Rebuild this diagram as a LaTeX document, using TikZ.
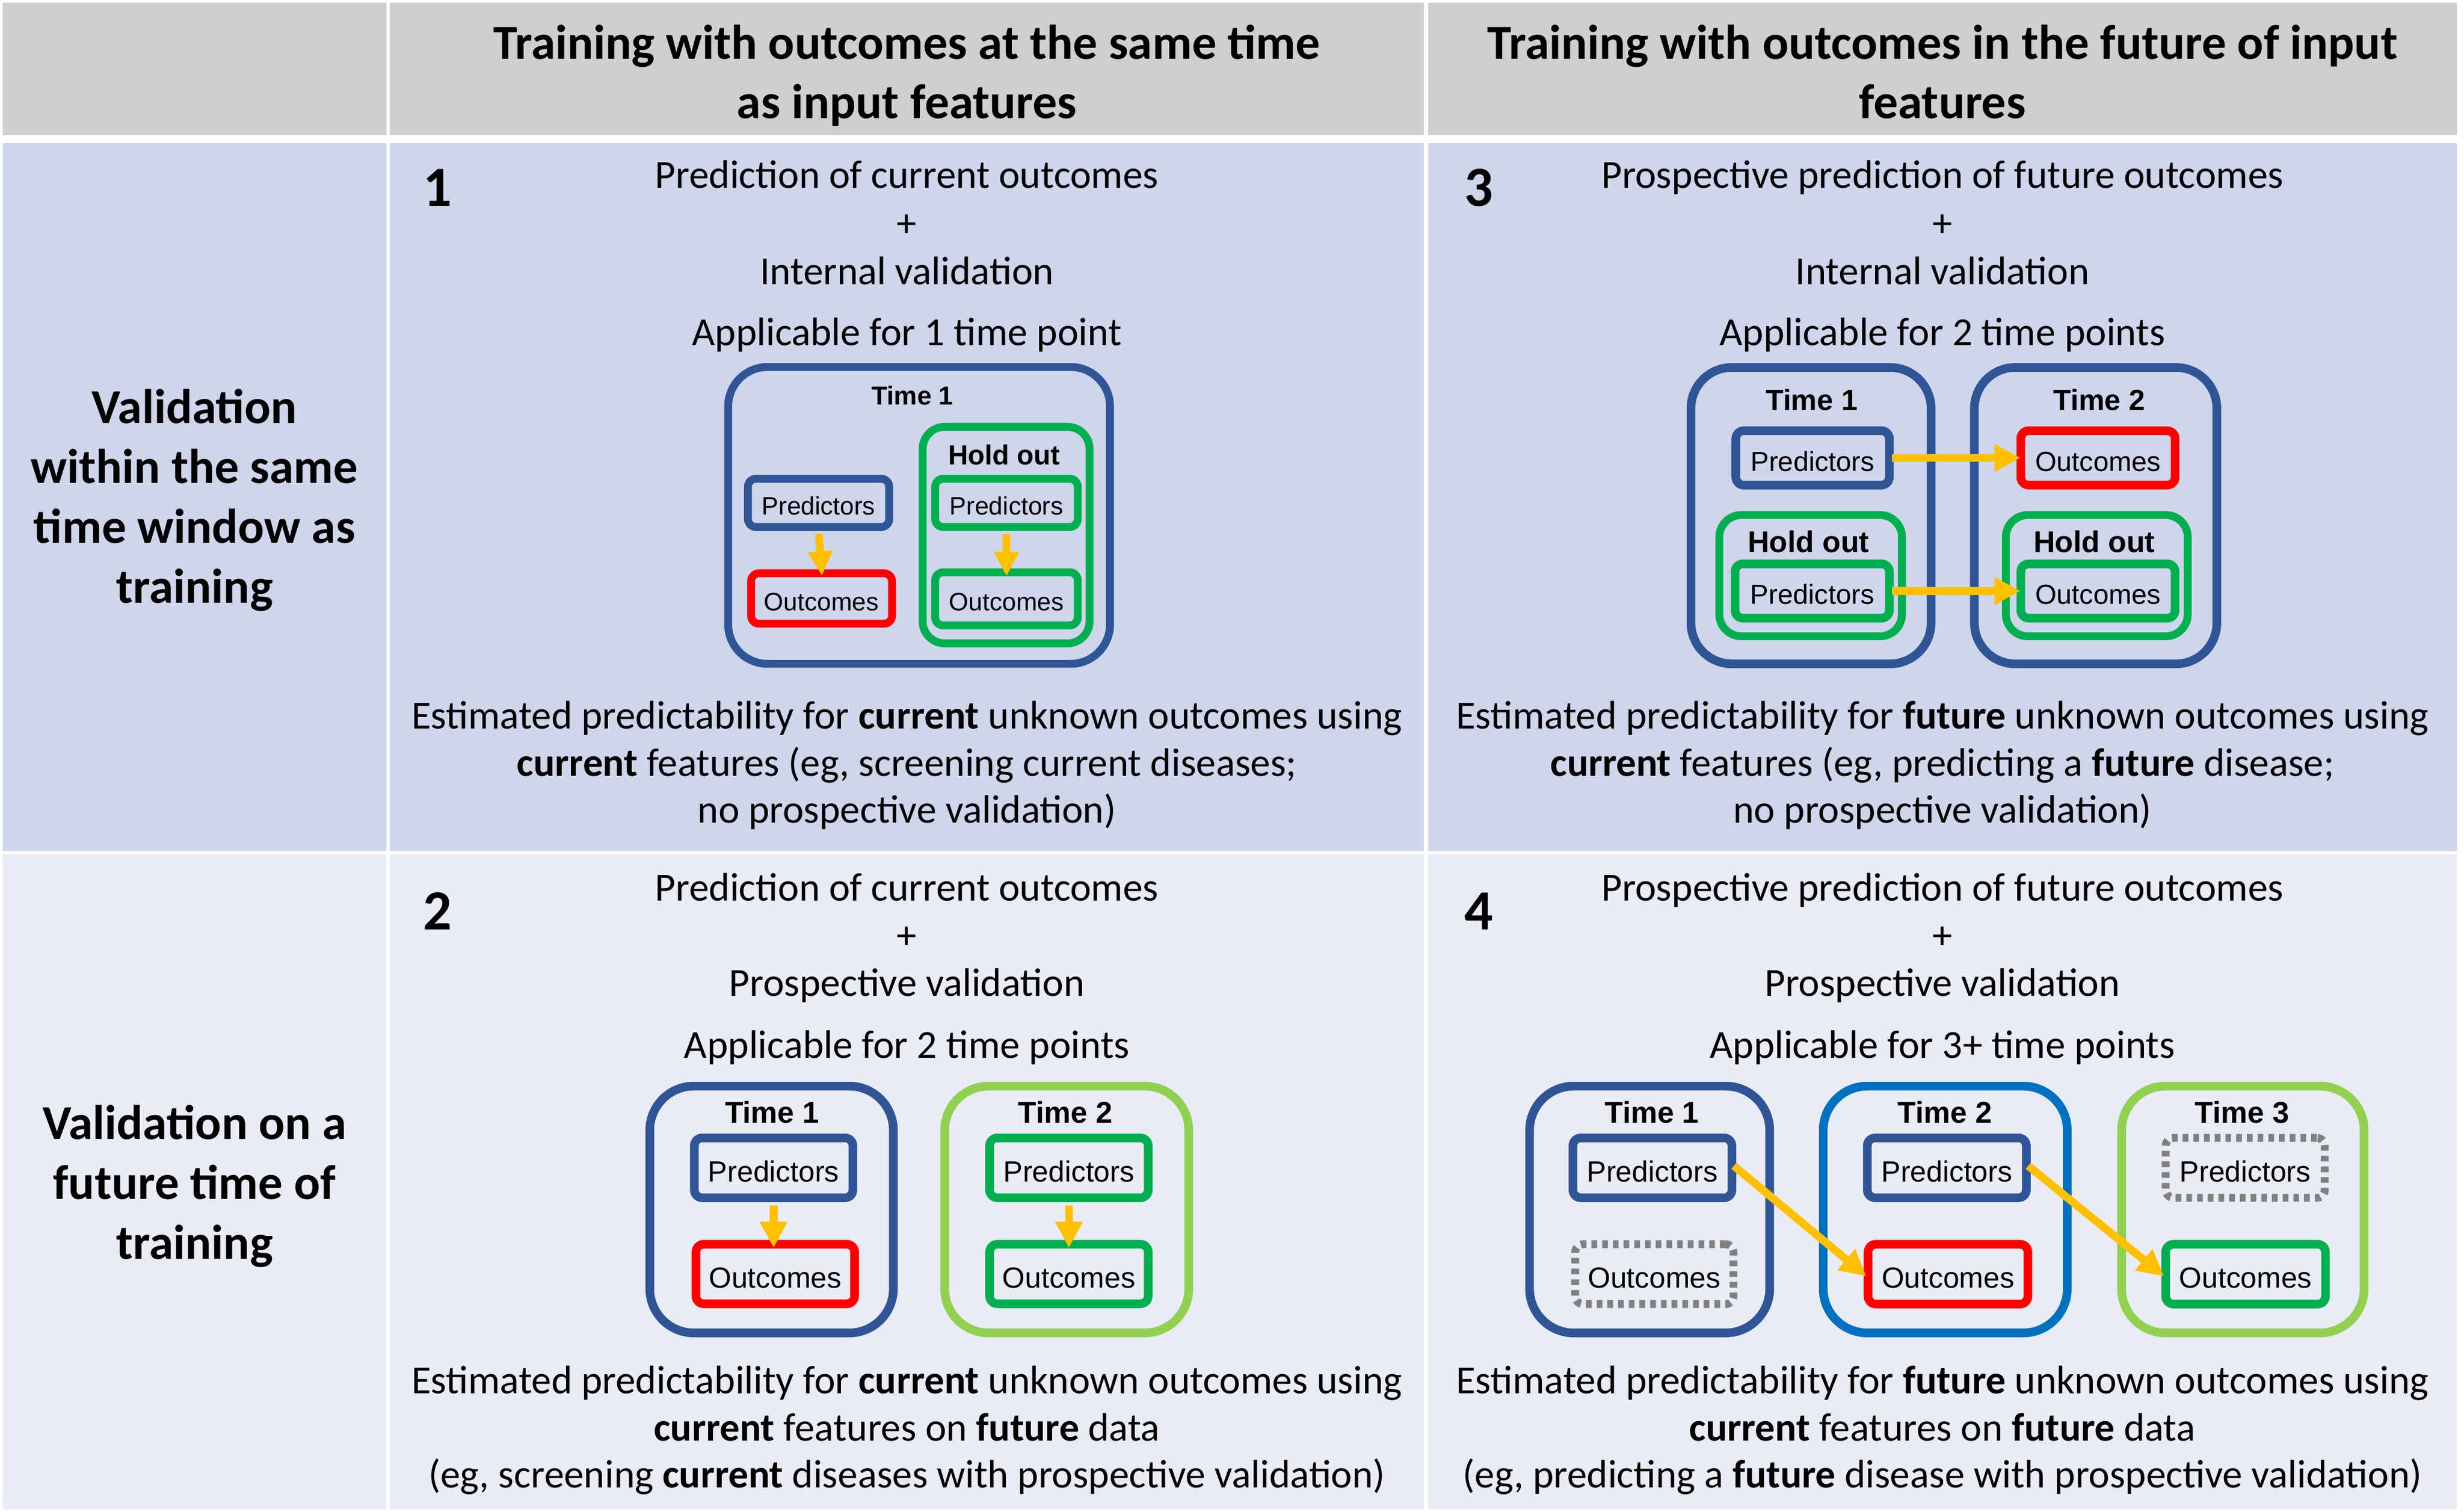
\documentclass[tikz,border=0pt]{standalone}
\usepackage{fontspec}
\setmainfont{Carlito}
\newfontfamily\arialf{Liberation Sans}
\usetikzlibrary{arrows.meta}
\definecolor{hdrgray}{HTML}{D0CECE}
\definecolor{rowa}{HTML}{CFD5EA}
\definecolor{rowb}{HTML}{E9EBF5}
\definecolor{dblue}{HTML}{2F5597}
\definecolor{mblue}{HTML}{0070C0}
\definecolor{dgreen}{HTML}{00B050}
\definecolor{lgreen}{HTML}{92D050}
\definecolor{ored}{HTML}{FF0000}
\definecolor{arrowy}{HTML}{FFC000}
\definecolor{dgray}{HTML}{808080}
\tikzset{
  body/.style={anchor=base, inner sep=0pt, font=\fontsize{25.3}{30.5}\selectfont},
  hdr/.style={anchor=base, inner sep=0pt, font=\fontsize{31}{38}\selectfont\bfseries},
  num/.style={anchor=base west, inner sep=0pt, font=\fontsize{36}{40}\selectfont\bfseries},
  outerbox/.style={draw, line width=5.5pt, rounded corners=27pt, inner sep=0pt},
  innerbox/.style={draw, line width=5.5pt, rounded corners=5pt, inner sep=0pt},
  holdbox/.style={draw=dgreen, line width=5pt, rounded corners=14pt, inner sep=0pt},
  dashbox/.style={draw=dgray, line width=5pt, dash pattern=on 3.6pt off 3.2pt, rounded corners=5pt, inner sep=0pt},
  lblA/.style={font=\arialf\fontsize{16}{18}\selectfont, text height=15.2pt, text depth=0pt},
  lblB/.style={font=\arialf\fontsize{17.5}{19}\selectfont, text height=16.6pt, text depth=0pt},
  lblC/.style={font=\arialf\fontsize{18.5}{20}\selectfont, text height=17.6pt, text depth=0pt},
  timeA/.style={inner sep=0pt, font=\arialf\bfseries\fontsize{16.5}{18}\selectfont},
  timeB/.style={inner sep=0pt, font=\arialf\bfseries\fontsize{18.5}{20}\selectfont},
  timeC/.style={inner sep=0pt, font=\arialf\bfseries\fontsize{19}{21}\selectfont},
  holdA/.style={inner sep=0pt, font=\arialf\bfseries\fontsize{17.5}{19}\selectfont},
  holdB/.style={inner sep=0pt, font=\arialf\bfseries\fontsize{19}{21}\selectfont},
  flow/.style={draw=arrowy, line width=5pt, -{Triangle[width=16.5pt,length=16.5pt]}}
}
\begin{document}
\begin{tikzpicture}[x=1pt,y=-1pt]
\useasboundingbox (0,0) rectangle (1565,959.7);
\fill[white] (0,0) rectangle (1565,959.7);
% table cells
\fill[hdrgray] (1.7,1.7) rectangle (245.3,85.7);
\fill[hdrgray] (247.6,1.7) rectangle (904.3,85.7);
\fill[hdrgray] (907,1.7) rectangle (1560.5,85.7);
\fill[rowa] (1.7,91) rectangle (245.3,540.5);
\fill[rowa] (247.6,91) rectangle (904.3,540.5);
\fill[rowa] (907,91) rectangle (1560.5,540.5);
\fill[rowb] (1.7,542.5) rectangle (245.3,958.3);
\fill[rowb] (247.6,542.5) rectangle (904.3,958.3);
\fill[rowb] (907,542.5) rectangle (1560.5,958.3);

% headers
\node[hdr] (h1a) at (576,37.5) {Training with outcomes at the same time};
\node[hdr] (h1b) at (576,75.3) {as input features};
\node[hdr] (h2a) at (1233.7,37.5) {Training with outcomes in the future of input};
\node[hdr] (h2b) at (1233.7,75.3) {features};

% row labels
\node[hdr] (r1a) at (123.5,268.8) {Validation};
\node[hdr] (r1b) at (123.5,306.8) {within the same};
\node[hdr] (r1c) at (123.5,344.8) {time window as};
\node[hdr] (r1d) at (123.5,382.8) {training};
\node[hdr] (r2a) at (123.5,723.3) {Validation on a};
\node[hdr] (r2b) at (123.5,761.3) {future time of};
\node[hdr] (r2c) at (123.5,799.3) {training};

% numbers
\node[num] (n1) at (268.5,131) {1};
\node[num] (n3) at (930,131) {3};
\node[num] (n2) at (268.5,590.2) {2};
\node[num] (n4) at (930,590.2) {4};

% cell 1 texts
\node[body] (c1a) at (576,119.6) {Prediction of current outcomes};
\node[body] (c1b) at (576,150.1) {+};
\node[body] (c1c) at (576,180.5) {Internal validation};
\node[body] (c1d) at (576,219.2) {Applicable for 1 time point};
\node[body] (c1e) at (576,462.8) {Estimated predictability for \textbf{current} unknown outcomes using};
\node[body] (c1f) at (576,492.8) {\textbf{current} features (eg, screening current diseases;};
\node[body] (c1g) at (576,522.7) {no prospective validation)};

% cell 3 texts
\node[body] (c3a) at (1233.7,119.6) {Prospective prediction of future outcomes};
\node[body] (c3b) at (1233.7,150.1) {+};
\node[body] (c3c) at (1233.7,180.5) {Internal validation};
\node[body] (c3d) at (1233.7,219.2) {Applicable for 2 time points};
\node[body] (c3e) at (1233.7,462.8) {Estimated predictability for \textbf{future} unknown outcomes using};
\node[body] (c3f) at (1233.7,492.8) {\textbf{current} features (eg, predicting a \textbf{future} disease;};
\node[body] (c3g) at (1233.7,522.7) {no prospective validation)};

% cell 2 texts
\node[body] (c2a) at (576,572) {Prediction of current outcomes};
\node[body] (c2b) at (576,602.3) {+};
\node[body] (c2c) at (576,632.5) {Prospective validation};
\node[body] (c2d) at (576,672) {Applicable for 2 time points};
\node[body] (c2e) at (576,884.8) {Estimated predictability for \textbf{current} unknown outcomes using};
\node[body] (c2f) at (576,914.8) {\textbf{current} features on \textbf{future} data};
\node[body] (c2g) at (576,944.7) {(eg, screening \textbf{current} diseases with prospective validation)};

% cell 4 texts
\node[body] (c4a) at (1233.7,572) {Prospective prediction of future outcomes};
\node[body] (c4b) at (1233.7,602.3) {+};
\node[body] (c4c) at (1233.7,632.5) {Prospective validation};
\node[body] (c4d) at (1233.7,672) {Applicable for 3+ time points};
\node[body] (c4e) at (1233.7,884.8) {Estimated predictability for \textbf{future} unknown outcomes using};
\node[body] (c4f) at (1233.7,914.8) {\textbf{current} features on \textbf{future} data};
\node[body] (c4g) at (1233.7,944.7) {(eg, predicting a \textbf{future} disease with prospective validation)};

% ---------- diagram 1 ----------
\node[outerbox, draw=dblue, line width=5pt, rounded corners=25pt, minimum width=242.5pt, minimum height=188.5pt] (d1t) at (583.75,327.25) {};
\node[timeA] (d1tl) at (579.5,251) {Time 1};
\node[holdbox, minimum width=106pt, minimum height=137.5pt] (d1h) at (639,339.75) {};
\node[holdA] (d1hl) at (637.7,288.7) {Hold out};
\node[innerbox, draw=dblue, line width=5pt, minimum width=89.7pt, minimum height=30.6pt, lblA] (d1p) at (519.9,319.3) {Predictors};
\node[innerbox, draw=ored, line width=5pt, minimum width=89.5pt, minimum height=32pt, lblA] (d1o) at (521.8,380) {Outcomes};
\node[innerbox, draw=dgreen, line width=5pt, minimum width=90.5pt, minimum height=30.6pt, lblA] (d1hp) at (639.25,319.3) {Predictors};
\node[innerbox, draw=dgreen, line width=5pt, minimum width=90.5pt, minimum height=33.7pt, lblA] (d1ho) at (639.25,380.2) {Outcomes};
\draw[flow, line width=4.8pt, -{Triangle[width=15pt,length=15.5pt]}, shorten <=2pt, shorten >=-4pt] (d1p.south) -- (d1o.north);
\draw[flow, line width=4.8pt, -{Triangle[width=15pt,length=15.5pt]}, shorten <=2pt, shorten >=-5pt] (d1hp.south) -- (d1ho.north);

% ---------- diagram 3 ----------
\node[outerbox, draw=dblue, rounded corners=26pt, minimum width=152.5pt, minimum height=188.2pt] (d3t1) at (1150.25,327.4) {};
\node[outerbox, draw=dblue, rounded corners=26pt, minimum width=154pt, minimum height=188.2pt] (d3t2) at (1331,327.4) {};
\node[timeB] (d3t1l) at (1150.7,254) {Time 1};
\node[timeB] (d3t2l) at (1333.3,254) {Time 2};
\node[holdbox, minimum width=116pt, minimum height=77pt] (d3h1) at (1150,365.5) {};
\node[holdbox, minimum width=115.5pt, minimum height=77pt] (d3h2) at (1331.75,365.5) {};
\node[holdB] (d3h1l) at (1148.6,343.8) {Hold out};
\node[holdB] (d3h2l) at (1330.1,343.8) {Hold out};
\node[innerbox, draw=dblue, minimum width=97.5pt, minimum height=34.5pt, lblB] (d3p1) at (1151.25,290.75) {Predictors};
\node[innerbox, draw=ored, minimum width=98pt, minimum height=34.5pt, lblB] (d3o1) at (1332.5,290.75) {Outcomes};
\node[innerbox, draw=dgreen, minimum width=98pt, minimum height=34.5pt, lblB] (d3p2) at (1151,375.25) {Predictors};
\node[innerbox, draw=dgreen, minimum width=98pt, minimum height=34.5pt, lblB] (d3o2) at (1332.5,375.25) {Outcomes};
\draw[flow, shorten <=-1pt, shorten >=-2.5pt] (d3p1.east) -- (d3o1.west);
\draw[flow, shorten <=-1pt, shorten >=-2.5pt] (d3p2.east) -- (d3o2.west);

% ---------- diagram 2 ----------
\node[outerbox, draw=dblue, rounded corners=28pt, minimum width=154.7pt, minimum height=156.7pt] (d2t1) at (490.05,767.95) {};
\node[outerbox, draw=lgreen, rounded corners=28pt, minimum width=155pt, minimum height=156.7pt] (d2t2) at (677.5,767.95) {};
\node[timeC] (d2t1l) at (490.4,706.2) {Time 1};
\node[timeC] (d2t2l) at (676.7,706.2) {Time 2};
\node[innerbox, draw=dblue, minimum width=100.7pt, minimum height=38pt, lblC] (d2p1) at (491.35,741.5) {Predictors};
\node[innerbox, draw=ored, minimum width=100.8pt, minimum height=37.8pt, lblC] (d2o1) at (492.4,808.9) {Outcomes};
\node[innerbox, draw=dgreen, minimum width=100.8pt, minimum height=38pt, lblC] (d2p2) at (678.9,741.5) {Predictors};
\node[innerbox, draw=dgreen, minimum width=100.8pt, minimum height=37.8pt, lblC] (d2o2) at (678.9,808.9) {Outcomes};
\draw[flow, shorten <=2pt, shorten >=-5pt] (d2p1.south) -- (d2p1.south |- d2o1.north);
\draw[flow, shorten <=2pt, shorten >=-5pt] (d2p2.south) -- (d2o2.north);

% ---------- diagram 4 ----------
\node[outerbox, draw=dblue, rounded corners=28pt, minimum width=152.5pt, minimum height=156.7pt] (d4t1) at (1047.75,767.95) {};
\node[outerbox, draw=mblue, rounded corners=28pt, minimum width=155pt, minimum height=156.7pt] (d4t2) at (1235.5,767.95) {};
\node[outerbox, draw=lgreen, rounded corners=28pt, minimum width=154pt, minimum height=156.7pt] (d4t3) at (1424.5,767.95) {};
\node[timeC] (d4t1l) at (1049.2,706.2) {Time 1};
\node[timeC] (d4t2l) at (1235.3,706.2) {Time 2};
\node[timeC] (d4t3l) at (1424,706.2) {Time 3};
\node[innerbox, draw=dblue, minimum width=101pt, minimum height=38pt, lblC] (d4p1) at (1049.5,741.5) {Predictors};
\node[dashbox, minimum width=100.5pt, minimum height=38pt, lblC] (d4o1) at (1050.75,809) {Outcomes};
\node[innerbox, draw=dblue, minimum width=101pt, minimum height=38pt, lblC] (d4p2) at (1236.5,741.5) {Predictors};
\node[innerbox, draw=ored, minimum width=101.5pt, minimum height=38pt, lblC] (d4o2) at (1237.25,809) {Outcomes};
\node[dashbox, minimum width=101pt, minimum height=38pt, lblC] (d4p3) at (1426,741.5) {Predictors};
\node[innerbox, draw=dgreen, minimum width=101.5pt, minimum height=38pt, lblC] (d4o3) at (1426.25,809) {Outcomes};
\draw[flow, shorten <=-2pt, shorten >=-2pt] (d4p1.east) -- (d4o2.west);
\draw[flow, shorten <=-2pt, shorten >=-2pt] (d4p2.east) -- (d4o3.west);
\end{tikzpicture}
\end{document}
